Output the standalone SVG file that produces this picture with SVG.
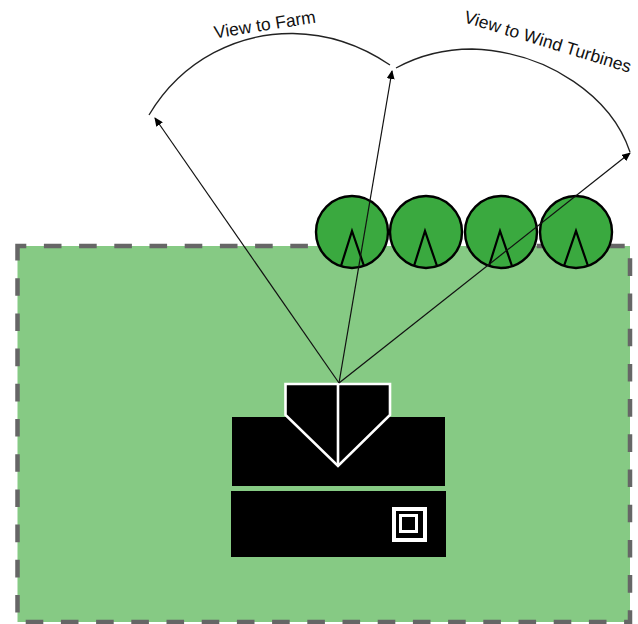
<svg xmlns="http://www.w3.org/2000/svg" width="638" height="624" viewBox="0 0 638 624">
<style>
.lbl{font-family:"Liberation Sans",Arial,sans-serif;font-size:17.5px;fill:#111}
.arc{fill:none;stroke:#222;stroke-width:1.3}
.ray{fill:none;stroke:#111;stroke-width:1.2;marker-end:url(#ah)}
.tree{fill:#3aa93f;stroke:#000;stroke-width:2.4}
.trunk{fill:none;stroke:#000;stroke-width:2.2;stroke-linejoin:miter}
.wl{fill:none;stroke:#fff}
</style>
<defs><marker id="ah" markerUnits="userSpaceOnUse" markerWidth="9" markerHeight="8" refX="8" refY="4" orient="auto"><path d="M0 0L9 4L0 8Z" fill="#000"/></marker></defs>
<rect width="638" height="624" fill="#fff"/>
<g id="farm"><rect x="17.5" y="246" width="612.5" height="376" fill="#86ca84"/>
<rect x="17.5" y="246" width="612.5" height="376" fill="none" stroke="#666" stroke-width="4.5" stroke-dasharray="17.6 17.6" stroke-dashoffset="8.8"/></g>
<g id="tree-1"><circle class="tree" cx="352" cy="232" r="36"/><path class="trunk" d="M341 266L352 231L364 266"/></g>
<g id="tree-2"><circle class="tree" cx="426" cy="232" r="36"/><path class="trunk" d="M414 266L425 231L437 266"/></g>
<g id="tree-3"><circle class="tree" cx="501" cy="232" r="36"/><path class="trunk" d="M489 266L500 231L512 266"/></g>
<g id="tree-4"><circle class="tree" cx="576" cy="232" r="36"/><path class="trunk" d="M564 266L576 231L588 266"/></g>
<g id="building"><rect x="232" y="417" width="213" height="69" fill="#000"/><rect x="231" y="491" width="215" height="66" fill="#000"/>
<path d="M285.500 384H390V415L338 466L285.500 415Z" fill="#000" stroke="#fff" stroke-width="2.600"/><path class="wl" stroke-width="2.600" d="M338 385V466"/>
<rect class="wl" x="394" y="509" width="31" height="31" stroke-width="4"/><rect class="wl" x="400.500" y="515.500" width="16" height="16" stroke-width="3"/></g>
<g id="connectors">
<path class="ray" d="M339 383L155 118"/><path class="ray" d="M339 383L392 71"/><path class="ray" d="M339 383L630 153"/>
<path class="arc" d="M149 115C183 58 240 33 293 33.500C330 34 362 46 390 65"/>
<path class="arc" d="M396 68C418 56 445 49 472 49C550 52 612 98 630 152"/>
</g>
<g id="labels"><text class="lbl" transform="translate(215 38.500) rotate(-9)">View to Farm</text>
<text class="lbl" transform="translate(463 22) rotate(17)">View to Wind Turbines</text></g>
</svg>
